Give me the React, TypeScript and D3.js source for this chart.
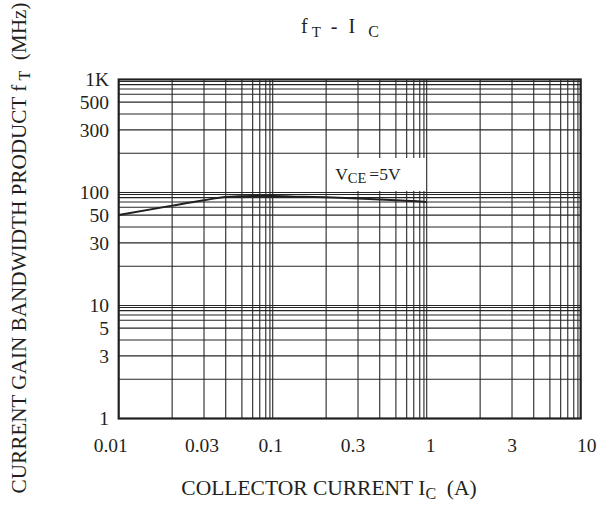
import React from "react";
import * as d3 from "d3";

// ---- data ----
const X_DOMAIN: [number, number] = [0.01, 10];
const Y_DOMAIN: [number, number] = [1, 1000];
const X_TICKS = [0.01, 0.03, 0.1, 0.3, 1, 3, 10];
const X_TICK_LABELS = ["0.01", "0.03", "0.1", "0.3", "1", "3", "10"];
const Y_TICKS = [1, 3, 5, 10, 30, 50, 100, 300, 500, 1000];
const Y_TICK_LABELS = ["1", "3", "5", "10", "30", "50", "100", "300", "500", "1K"];
const IC = [0.01, 0.02, 0.03, 0.04, 0.06, 0.1, 0.15, 0.2, 0.3, 0.5, 0.7, 1];
const FT = [50, 63, 74, 82, 85, 85, 83, 81, 78, 74, 72, 70];
const LABEL_BOX_X = [0.2, 1];
const LABEL_BOX_Y = [104, 188];

// ---- layout ----
const W = 612;
const H = 506;
const PLOT = { left: 118.7, right: 580.7, top: 79.5, bottom: 418.5 };
// position of the 1..10 lines inside one decade of the printed log paper
const GRID_FRAC = [0, 0.347, 0.554, 0.695, 0.8, 0.87, 0.916, 0.955, 0.982, 1];
// small horizontal nudges of the printed x tick labels
const X_LABEL_DX = [-8, -2, -2, -5, 4, 0, 6];
const INK = "#231f20";
const FONT = "'Liberation Serif', 'Times New Roman', serif";

function logPaperScale(domain: [number, number], range: [number, number]) {
  const e0 = Math.round(Math.log10(domain[0]));
  const e1 = Math.round(Math.log10(domain[1]));
  const n = e1 - e0;
  const dom: number[] = [];
  const rng: number[] = [];
  for (let e = e0; e < e1; e++) {
    for (let k = 1; k <= 9; k++) {
      dom.push(+(k * Math.pow(10, e)).toPrecision(6));
      rng.push(range[0] + ((range[1] - range[0]) * (e - e0 + GRID_FRAC[k - 1])) / n);
    }
  }
  dom.push(domain[1]);
  rng.push(range[1]);
  return d3.scaleLinear().domain(dom).range(rng);
}

export default function App() {
  const x = logPaperScale(X_DOMAIN, [PLOT.left, PLOT.right]);
  const y = logPaperScale(Y_DOMAIN, [PLOT.bottom, PLOT.top]);
  const xGrid = x.domain().slice(1, -1);
  const yGrid = y.domain().slice(1, -1);
  const pts = IC.map((v, i) => [v, FT[i]] as [number, number]);
  const line = d3
    .line<[number, number]>()
    .x((d) => x(d[0]))
    .y((d) => y(d[1]))
    .curve(d3.curveMonotoneX);

  const bx0 = x(LABEL_BOX_X[0]) + 1;
  const bx1 = x(LABEL_BOX_X[1]) - 1;
  const by0 = y(LABEL_BOX_Y[1]);
  const by1 = y(LABEL_BOX_Y[0]);

  return (
    <svg
      width={W}
      height={H}
      style={{ position: "absolute", left: 0, top: 0, background: "#fff" }}
      fontFamily={FONT}
    >
      <rect x={0} y={0} width={W} height={H} fill="#fff" />
      {/* grid */}
      <g stroke="#262626" strokeWidth={1.1}>
        {xGrid.map((v, i) => (
          <line key={"x" + i} x1={x(v)} x2={x(v)} y1={PLOT.top} y2={PLOT.bottom} />
        ))}
        {yGrid.map((v, i) => (
          <line key={"y" + i} x1={PLOT.left} x2={PLOT.right} y1={y(v)} y2={y(v)} />
        ))}
      </g>
      {/* label box */}
      <rect x={bx0} y={by0} width={bx1 - bx0} height={by1 - by0} fill="#fff" />
      <text x={bx0 + 8} y={by1 - 11} fontSize={17.5} fill={INK}>
        V
        <tspan fontSize={14.5} dy={3}>CE</tspan>
        <tspan dy={-3} dx={3}>=5V</tspan>
      </text>
      {/* frame */}
      <rect
        x={PLOT.left}
        y={PLOT.top}
        width={PLOT.right - PLOT.left}
        height={PLOT.bottom - PLOT.top}
        fill="none"
        stroke={INK}
        strokeWidth={2.2}
      />
      {/* curve */}
      <path d={line(pts) || ""} fill="none" stroke={INK} strokeWidth={2} />
      {/* tick labels */}
      <g fontSize={19.5} fill={INK}>
        {X_TICKS.map((v, i) => (
          <text key={"xt" + i} x={x(v) + X_LABEL_DX[i]} y={452} textAnchor="middle">
            {X_TICK_LABELS[i]}
          </text>
        ))}
        {Y_TICKS.map((v, i) => (
          <text key={"yt" + i} x={109} y={y(v)} dy="0.35em" textAnchor="end">
            {Y_TICK_LABELS[i]}
          </text>
        ))}
      </g>
      {/* title */}
      <text x={301} y={33} fontSize={20} fill={INK} style={{ whiteSpace: "pre" }}>
        f
        <tspan fontSize={15} dx={4} dy={4}>T</tspan>
        <tspan dx={10} dy={-4}>-</tspan>
        <tspan dx={11}>I</tspan>
        <tspan fontSize={16} dx={13} dy={4}>C</tspan>
      </text>
      {/* x axis title */}
      <text x={329} y={495} fontSize={21.5} fill={INK} textAnchor="middle" style={{ whiteSpace: "pre" }}>
        COLLECTOR CURRENT I
        <tspan fontSize={16} dy={4}>C</tspan>
        <tspan dy={-4}>{"  (A)"}</tspan>
      </text>
      {/* y axis title */}
      <text
        transform={`translate(26,248) rotate(-90)`}
        fontSize={21.2}
        fill={INK}
        textAnchor="middle"
        style={{ whiteSpace: "pre" }}
      >
        CURRENT GAIN BANDWIDTH PRODUCT f
        <tspan fontSize={16} dx={4} dy={4}>T</tspan>
        <tspan dy={-4}>{"  (MHz)"}</tspan>
      </text>
    </svg>
  );
}
